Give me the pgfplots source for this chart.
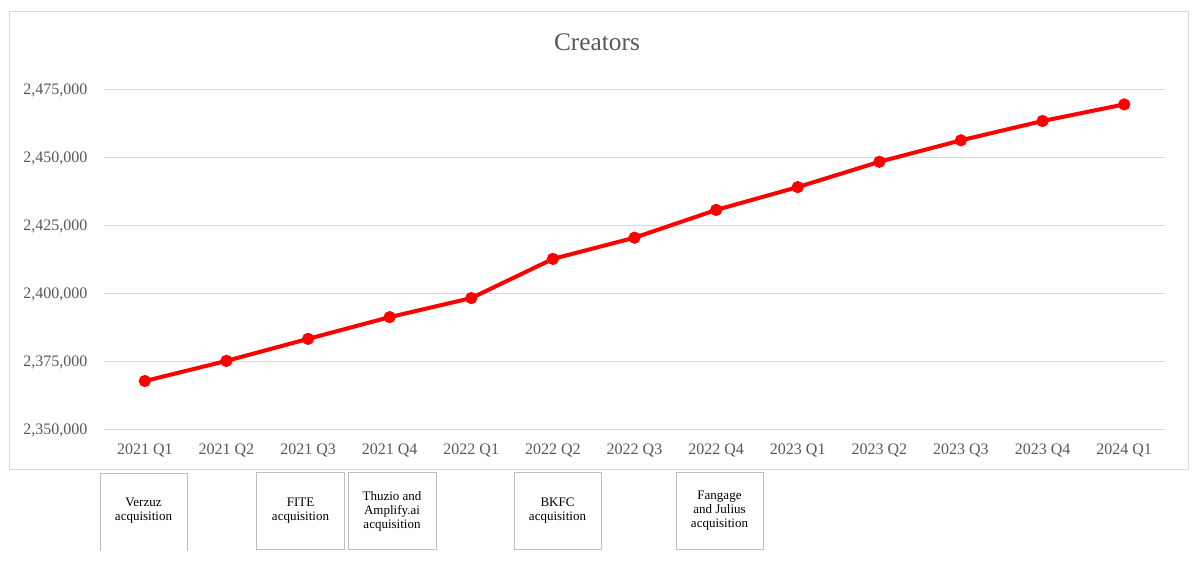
\documentclass[border=0pt]{standalone}
\usepackage{pgfplots}
\pgfplotsset{compat=1.18}
\usepackage{fontspec}
\setmainfont{Liberation Serif}
\definecolor{gridc}{HTML}{D9D9D9}
\definecolor{txt}{HTML}{595959}
\definecolor{boxc}{HTML}{BFBFBF}
\begin{document}
\begin{tikzpicture}[x=0.75pt,y=0.75pt]
\path[use as bounding box, fill=white] (0,0) rectangle (1204,563);
\draw[gridc, line width=0.75pt] (9,93) rectangle (1188,551);
\node[txt, font=\fontsize{19}{23}\selectfont] at (597,521) {Creators};
\begin{axis}[
  at={(78pt,99.75pt)}, anchor=south west, scale only axis,
  width=795.75pt, height=255pt,
  xmin=-0.5, xmax=12.5, ymin=2350000, ymax=2475000,
  ytick={2350000,2375000,2400000,2425000,2450000,2475000},
  xtick={0,...,12},
  xticklabels={2021 Q1,2021 Q2,2021 Q3,2021 Q4,2022 Q1,2022 Q2,2022 Q3,2022 Q4,2023 Q1,2023 Q2,2023 Q3,2023 Q4,2024 Q1},
  axis line style={draw=none}, major tick length=0pt,
  ymajorgrids, grid style={gridc, line width=0.75pt},
  tick label style={txt, font=\fontsize{12}{14}\selectfont},
  /pgf/number format/assume math mode=true,
  scaled y ticks=false,
  yticklabel style={/pgf/number format/fixed, /pgf/number format/1000 sep={,}, anchor=east, xshift=-9pt},
  xticklabel style={yshift=-6.5pt},
  clip=false,
]
\addplot[red, line width=3pt, mark=*, mark size=3pt, mark options={fill=red, draw=red}] coordinates {
 (0,2368000) (1,2375400) (2,2383500) (3,2391500) (4,2398500) (5,2412900)
 (6,2420700) (7,2430900) (8,2439300) (9,2448600) (10,2456500) (11,2463600) (12,2469700)
};
\end{axis}
\tikzset{bx/.style={boxc, line width=0.75pt}, bt/.style={align=center, font=\fontsize{9.75}{10.5}\selectfont, black}}
\draw[bx] (100,12) -- (100,89) -- (187,89) -- (187,12);
\node[bt] at (143.5,52) {Verzuz\\acquisition};
\draw[bx] (256.5,13) rectangle (344.5,90);
\node[bt] at (300.5,52) {FITE\\acquisition};
\draw[bx] (348,13) rectangle (436,90);
\node[bt] at (392,52) {Thuzio and\\Amplify.ai\\acquisition};
\draw[bx] (514,13) rectangle (601,90);
\node[bt] at (557.5,52) {BKFC\\acquisition};
\draw[bx] (676,13) rectangle (763,90);
\node[bt] at (719.5,52) {Fangage\\and Julius\\acquisition};
\end{tikzpicture}
\end{document}
